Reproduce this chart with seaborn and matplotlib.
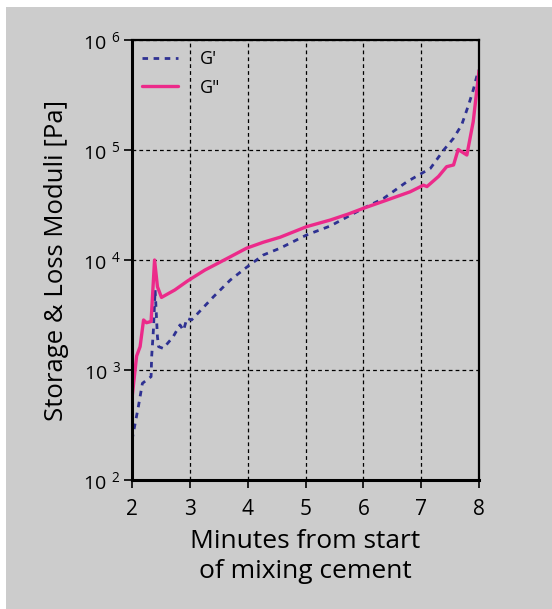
import matplotlib
matplotlib.use("Agg")
import matplotlib.pyplot as plt
import seaborn as sns
import pandas as pd
from matplotlib.patches import Rectangle

# ---- data ----
t_gp = [2.00, 2.11, 2.18, 2.33, 2.34, 2.37, 2.40, 2.44, 2.46, 2.54, 2.71, 2.83, 2.89, 2.95, 3.03,
        3.41, 3.70, 3.98, 4.27, 4.56, 5.02, 5.43, 6.00, 6.35, 6.75, 7.16, 7.39, 7.56, 7.70, 7.82,
        7.90, 7.99]
g_prime = [231, 464, 757, 870, 1320, 2310, 5340, 2000, 1630, 1570, 2000, 2570, 2290, 2950, 2850,
           4640, 6580, 8570, 11100, 12800, 16900, 20400, 29500, 36300, 51300, 68100, 100000,
           128000, 169000, 257000, 351000, 533000]

t_gpp = [2.00, 2.08, 2.14, 2.20, 2.25, 2.33, 2.39, 2.44, 2.51, 2.74, 2.97, 3.26, 3.41, 3.70,
         3.98, 4.27, 4.56, 5.02, 5.43, 5.75, 6.00, 6.41, 6.81, 7.04, 7.10, 7.30, 7.44, 7.56,
         7.64, 7.79, 7.90, 8.00]
g_dprime = [553, 1340, 1630, 2850, 2690, 2760, 10000, 5710, 4570, 5340, 6500, 8100, 8900, 10700,
            12800, 14500, 16100, 20100, 23100, 26300, 29500, 35100, 41700, 47900, 46500, 57500,
            70500, 73100, 101000, 90000, 181000, 525000]

series_names = ["G'", 'G"']
x_ticks = [2, 3, 4, 5, 6, 7, 8]
y_ticks = [1e2, 1e3, 1e4, 1e5, 1e6]
y_tick_labels = [r"$10\ ^{2}$", r"$10\ ^{3}$", r"$10\ ^{4}$", r"$10\ ^{5}$", r"$10\ ^{6}$"]

df = pd.concat([
    pd.DataFrame({"t": t_gp, "val": g_prime, "series": series_names[0]}),
    pd.DataFrame({"t": t_gpp, "val": g_dprime, "series": series_names[1]}),
], ignore_index=True)

# ---- style ----
sns.set_theme(style="ticks")
plt.rcParams["font.family"] = ["Open Sans", "DejaVu Sans"]
plt.rcParams["mathtext.fontset"] = "custom"
plt.rcParams["mathtext.rm"] = "Open Sans"
plt.rcParams["mathtext.it"] = "Open Sans"
plt.rcParams["mathtext.default"] = "regular"
for key in ["text.color", "axes.labelcolor", "xtick.color", "ytick.color"]:
    plt.rcParams[key] = "black"

BG = "#cccccc"
BLUE = "#2e3192"
PINK = "#ec2a8a"

fig = plt.figure(figsize=(5.52, 6.09), dpi=100, facecolor="white")
fig.patches.append(Rectangle((6 / 552, 0), 1 - 6 / 552, 1 - 7 / 609,
                             transform=fig.transFigure, facecolor=BG, edgecolor="none",
                             zorder=-10))
ax = fig.add_axes([132 / 552, 1 - 480 / 609, (479 - 132) / 552, (480 - 40) / 609])
ax.set_zorder(1)
ax.set_facecolor(BG)

sns.lineplot(data=df[df.series == series_names[0]], x="t", y="val", ax=ax, color=BLUE,
             linewidth=2.0, linestyle=(0, (2.0, 2.0)), label=series_names[0],
             estimator=None, sort=False)
sns.lineplot(data=df[df.series == series_names[1]], x="t", y="val", ax=ax, color=PINK,
             linewidth=2.4, label=series_names[1], estimator=None, sort=False)

ax.set_yscale("log")
ax.set_xlim(2, 8)
ax.set_ylim(1e2, 1e6)
ax.set_xticks(x_ticks)
ax.set_xticklabels([str(v) for v in x_ticks], fontsize=15)
ax.set_yticks(y_ticks)
ax.set_yticklabels(y_tick_labels, fontsize=14)
ax.minorticks_off()
ax.tick_params(axis="both", direction="out", length=6, width=1.2, color="black")
ax.tick_params(axis="x", pad=8)
ax.tick_params(axis="y", pad=2)

ax.grid(True, which="major", color="black", linestyle=(0, (3, 2.5)), linewidth=0.9)
for side in ["left", "bottom"]:
    ax.spines[side].set_linewidth(2.2)
for side in ["top", "right"]:
    ax.spines[side].set_linewidth(1.6)
for s in ax.spines.values():
    s.set_color("black")
    s.set_zorder(5)

ax.set_xlabel("Minutes from start\nof mixing cement", fontsize=19, labelpad=6, linespacing=1.3)
ax.set_ylabel("Storage & Loss Moduli [Pa]", fontsize=18.5, labelpad=10)

leg = ax.legend(loc="upper left", frameon=False, fontsize=13, handlelength=2.0,
                handletextpad=1.2, labelspacing=0.6, borderaxespad=0.15)

fig.savefig("out.png", dpi=100, facecolor=fig.get_facecolor())
